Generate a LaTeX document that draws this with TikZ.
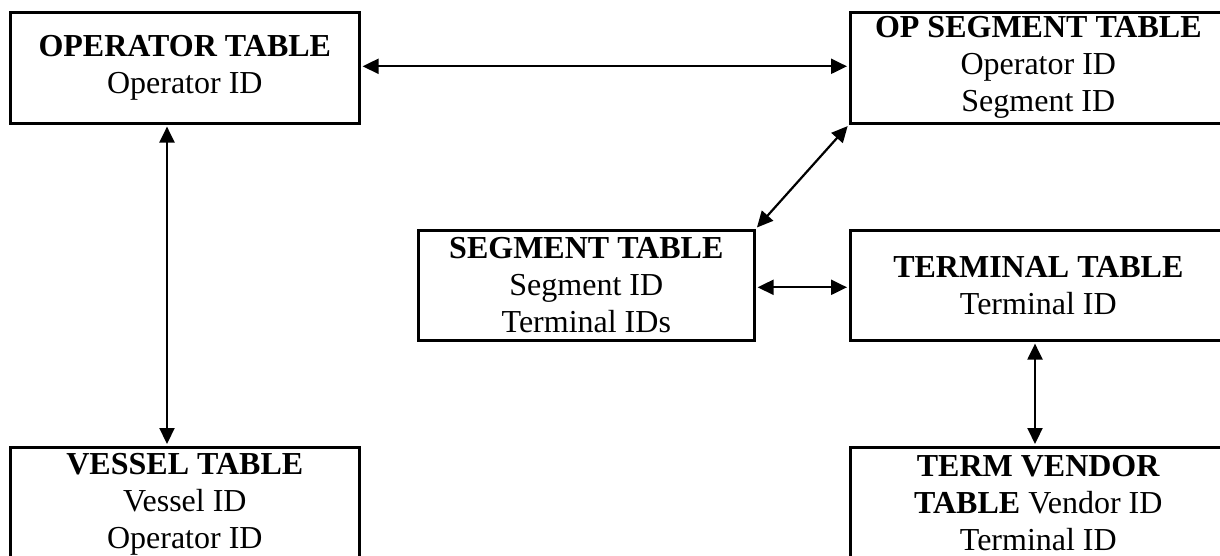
\documentclass[tikz,border=0pt]{standalone}
\usepackage{fontspec}
\setmainfont{Liberation Serif}
\usetikzlibrary{arrows.meta}

\begin{document}
\begin{tikzpicture}[x=1pt,y=-1pt,
    tbl/.style={draw,line width=2.6pt,anchor=north west,align=center,inner sep=0pt,
      font=\fontsize{32}{37}\selectfont},
    link/.style={{Triangle[length=16pt,width=15pt]}-{Triangle[length=16pt,width=15pt]},
      line width=2.2pt,shorten <=2pt,shorten >=2pt}]
  \useasboundingbox (0,0) rectangle (1220,556);
  \clip (0,0) rectangle (1220,556);
  % tables
  \node[tbl,minimum width=349pt,minimum height=111pt] (optbl) at (9,11)
    {\textbf{OPERATOR TABLE}\\Operator ID};
  \node[tbl,minimum width=376pt,minimum height=111pt] (opseg) at (849,11)
    {\textbf{OP SEGMENT TABLE}\\Operator ID\\Segment ID};
  \node[tbl,minimum width=336pt,minimum height=110pt] (seg) at (417,229)
    {\textbf{SEGMENT TABLE}\\Segment ID\\Terminal IDs};
  \node[tbl,minimum width=376pt,minimum height=110pt] (term) at (849,229)
    {\textbf{TERMINAL TABLE}\\Terminal ID};
  \node[tbl,minimum width=349pt,minimum height=114pt] (vessel) at (9,446)
    {\textbf{VESSEL TABLE}\\Vessel ID\\Operator ID};
  \node[tbl,minimum width=376pt,minimum height=112pt] (vendor) at (849,446)
    {\textbf{TERM VENDOR}\\\textbf{TABLE} Vendor ID\\Terminal ID};
  % links
  \draw[link] ([yshift=1.5pt]optbl.east) -- ([yshift=1.5pt]opseg.west);
  \draw[link] ([xshift=158pt]optbl.south west) -- ([xshift=158pt]vessel.north west);
  \draw[link] (opseg.south west) -- (seg.north east);
  \draw[link] ([yshift=-2pt]seg.east) -- ([yshift=-2pt]term.west);
  \draw[link] ([xshift=186pt]term.south west) -- ([xshift=186pt]vendor.north west);
\end{tikzpicture}
\end{document}
